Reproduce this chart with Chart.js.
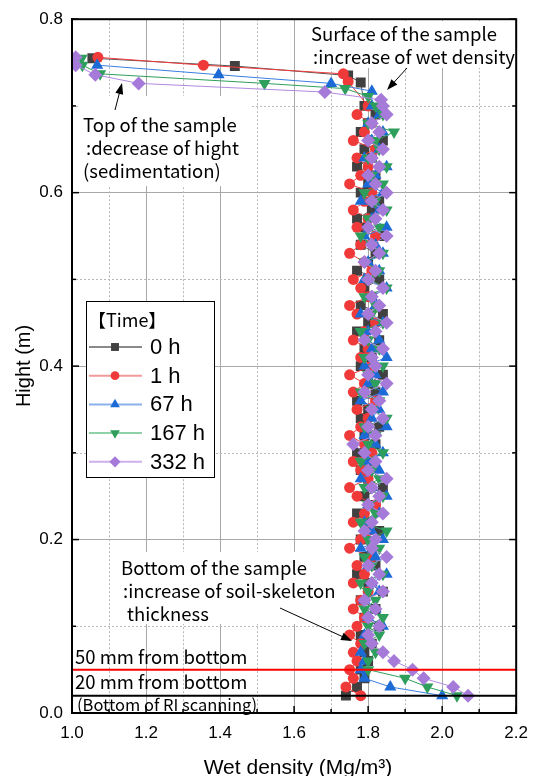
<!DOCTYPE html>
<html>
<head>
<meta charset="utf-8">
<script src="https://cdn.jsdelivr.net/npm/chart.js@4.4.1/dist/chart.umd.min.js"></script>
<style>
  html, body { margin: 0; padding: 0; background: #fff; }
</style>
</head>
<body>
<canvas id="densityChart" width="538" height="776"></canvas>
<script>
// scan heights (m) shared by all profiles
const heights = [
  0.02, 0.03, 0.04, 0.05, 0.06, 0.07, 0.08, 0.09, 0.10, 0.11,
  0.12, 0.13, 0.14, 0.15, 0.16, 0.17, 0.18, 0.19, 0.20, 0.21,
  0.22, 0.23, 0.24, 0.25, 0.26, 0.27, 0.28, 0.29, 0.30, 0.31,
  0.32, 0.33, 0.34, 0.35, 0.36, 0.37, 0.38, 0.39, 0.40, 0.41,
  0.42, 0.43, 0.44, 0.45, 0.46, 0.47, 0.48, 0.49, 0.50, 0.51,
  0.52, 0.53, 0.54, 0.55, 0.56, 0.57, 0.58, 0.59, 0.60, 0.61,
  0.62, 0.63, 0.64, 0.65, 0.66, 0.67, 0.68, 0.69, 0.70
];

// wet density (Mg/m3) at each height
const wet0h = [
  1.74, 1.77, 1.79, 1.78, 1.80, 1.79, 1.81, 1.78, 1.83, 1.79,
  1.82, 1.78, 1.84, 1.80, 1.77, 1.82, 1.79, 1.81, 1.78, 1.83,
  1.80, 1.77, 1.82, 1.79, 1.84, 1.80, 1.78, 1.81, 1.77, 1.82,
  1.79, 1.83, 1.78, 1.80, 1.77, 1.82, 1.80, 1.84, 1.78, 1.81,
  1.79, 1.83, 1.77, 1.80, 1.84, 1.78, 1.81, 1.79, 1.83, 1.77,
  1.80, 1.82, 1.78, 1.84, 1.79, 1.77, 1.81, 1.83, 1.78, 1.80,
  1.82, 1.77, 1.81, 1.79, 1.84, 1.78, 1.80, 1.82, 1.79
];
const wet1h = [
  1.78, 1.74, 1.76, 1.75, 1.77, 1.76, 1.78, 1.75, 1.77, 1.79,
  1.76, 1.78, 1.80, 1.76, 1.79, 1.77, 1.81, 1.75, 1.78, 1.80,
  1.76, 1.79, 1.82, 1.77, 1.75, 1.80, 1.78, 1.76, 1.81, 1.79,
  1.75, 1.78, 1.80, 1.77, 1.82, 1.76, 1.79, 1.75, 1.81, 1.78,
  1.80, 1.76, 1.79, 1.82, 1.77, 1.75, 1.80, 1.78, 1.76, 1.81,
  1.79, 1.75, 1.78, 1.82, 1.77, 1.80, 1.76, 1.79, 1.81, 1.75,
  1.78, 1.80, 1.77, 1.82, 1.76, 1.79, 1.81, 1.77, 1.80
];
const wet67h = [
  2.00, 1.86, 1.79, 1.78, 1.79, 1.78, 1.80, 1.79, 1.84, 1.80,
  1.82, 1.79, 1.83, 1.81, 1.85, 1.80, 1.82, 1.78, 1.84, 1.81,
  1.79, 1.83, 1.80, 1.85, 1.81, 1.78, 1.83, 1.80, 1.84, 1.82,
  1.79, 1.85, 1.81, 1.83, 1.78, 1.84, 1.80, 1.82, 1.79, 1.85,
  1.81, 1.83, 1.80, 1.84, 1.78, 1.82, 1.81, 1.85, 1.79, 1.83,
  1.80, 1.84, 1.82, 1.79, 1.85, 1.81, 1.83, 1.78, 1.84, 1.80,
  1.82, 1.85, 1.79, 1.83, 1.81, 1.84, 1.80, 1.83, 1.81
];
const wet167h = [
  2.04, 1.96, 1.90, 1.80, 1.80, 1.82, 1.79, 1.83, 1.80, 1.84,
  1.79, 1.82, 1.80, 1.78, 1.84, 1.81, 1.79, 1.83, 1.80, 1.85,
  1.78, 1.82, 1.80, 1.84, 1.79, 1.83, 1.81, 1.78, 1.84, 1.80,
  1.82, 1.79, 1.85, 1.81, 1.83, 1.78, 1.82, 1.80, 1.84, 1.79,
  1.83, 1.80, 1.78, 1.84, 1.81, 1.82, 1.79, 1.85, 1.80, 1.83,
  1.79, 1.84, 1.81, 1.78, 1.83, 1.80, 1.85, 1.82, 1.79, 1.84,
  1.81, 1.85, 1.80, 1.83, 1.82, 1.87, 1.80, 1.84, 1.82
];
const wet332h = [
  2.07, 2.03, 1.95, 1.92, 1.87, 1.84, 1.81, 1.80, 1.83, 1.80,
  1.82, 1.79, 1.84, 1.81, 1.83, 1.80, 1.85, 1.81, 1.82, 1.79,
  1.81, 1.84, 1.80, 1.83, 1.81, 1.85, 1.80, 1.82, 1.79, 1.76,
  1.82, 1.80, 1.84, 1.81, 1.83, 1.79, 1.85, 1.80, 1.82, 1.81,
  1.84, 1.79, 1.82, 1.85, 1.80, 1.83, 1.81, 1.84, 1.80, 1.82,
  1.79, 1.83, 1.81, 1.85, 1.80, 1.82, 1.84, 1.81, 1.85, 1.82,
  1.80, 1.83, 1.81, 1.84, 1.80, 1.83, 1.81, 1.85, 1.84
];

// sample surface (top of each profile)
const topHeights0h = [0.727, 0.735, 0.746, 0.755];
const topWet0h = [1.78, 1.746, 1.44, 1.055];
const topHeights1h = [0.728, 0.737, 0.747, 0.756];
const topWet1h = [1.746, 1.733, 1.355, 1.07];
const topHeights67h = [0.717, 0.726, 0.736, 0.747];
const topWet67h = [1.81, 1.70, 1.396, 1.068];
const topHeights167h = [0.711, 0.720, 0.726, 0.737, 0.747, 0.755];
const topWet167h = [1.80, 1.738, 1.52, 1.076, 1.028, 1.026];
const topHeights332h = [0.707, 0.716, 0.726, 0.736, 0.747, 0.756];
const topWet332h = [1.835, 1.683, 1.18, 1.063, 1.01, 1.01];

const timeLabels = ["0 h", "1 h", "67 h", "167 h", "332 h"];
const xTickValues = [1.0, 1.2, 1.4, 1.6, 1.8, 2.0, 2.2];
const yTickValues = [0.0, 0.2, 0.4, 0.6, 0.8];
const xMinorValues = [1.1, 1.3, 1.5, 1.7, 1.9, 2.1];
const yMinorValues = [0.1, 0.3, 0.5, 0.7];
const refHeights = [0.05, 0.02]; // 50 mm and 20 mm from bottom

const seriesStyle = [
  { color: "#404040", line: "#555555", legendLine: "#8a8a8a", shape: "rect", radius: 7, rotation: 0 },
  { color: "#f03a3a", line: "#f03a3a", legendLine: "#f59a9a", shape: "circle", radius: 5.5, rotation: 0 },
  { color: "#1c6ad6", line: "#3a7fe0", legendLine: "#8ab2ee", shape: "triangle", radius: 7, rotation: 0 },
  { color: "#2e9e5c", line: "#2e9e5c", legendLine: "#8fd2a8", shape: "triangle", radius: 7, rotation: 180 },
  { color: "#a67ad8", line: "#b08ae0", legendLine: "#cdb0ec", shape: "rectRot", radius: 7, rotation: 0 }
];

const bodyWet = [wet0h, wet1h, wet67h, wet167h, wet332h];
const topH = [topHeights0h, topHeights1h, topHeights67h, topHeights167h, topHeights332h];
const topW = [topWet0h, topWet1h, topWet67h, topWet167h, topWet332h];

const datasets = timeLabels.map((label, i) => {
  const st = seriesStyle[i];
  const pts = heights.map((h, k) => ({ x: bodyWet[i][k], y: h }));
  topH[i].forEach((h, k) => pts.push({ x: topW[i][k], y: h }));
  return {
    label: label,
    data: pts,
    borderColor: st.line,
    borderWidth: 1,
    backgroundColor: st.color,
    pointBackgroundColor: st.color,
    pointBorderColor: st.color,
    pointBorderWidth: 0,
    pointStyle: st.shape,
    pointRadius: st.radius,
    pointRotation: st.rotation,
    pointHoverRadius: st.radius,
    showLine: true,
    tension: 0,
    order: 5 - i
  };
});

const textFont = '"Noto Sans CJK JP", "Noto Sans", sans-serif';
const axisFont = '"Liberation Sans", Arial, sans-serif';

const drawMarker = (ctx, st, x, y, r) => {
  ctx.fillStyle = st.color;
  ctx.strokeStyle = st.color;
  Chart.helpers.drawPoint(ctx, { pointStyle: st.shape, radius: r, rotation: st.rotation, borderWidth: 0 }, x, y);
};

const arrow = (ctx, x1, y1, x2, y2) => {
  const ang = Math.atan2(y2 - y1, x2 - x1);
  const len = 11, half = 4;
  ctx.beginPath();
  ctx.moveTo(x1, y1);
  ctx.lineTo(x2 - Math.cos(ang) * len * 0.8, y2 - Math.sin(ang) * len * 0.8);
  ctx.stroke();
  ctx.beginPath();
  ctx.moveTo(x2, y2);
  ctx.lineTo(x2 - Math.cos(ang) * len - Math.sin(ang) * half, y2 - Math.sin(ang) * len + Math.cos(ang) * half);
  ctx.lineTo(x2 - Math.cos(ang) * len + Math.sin(ang) * half, y2 - Math.sin(ang) * len - Math.cos(ang) * half);
  ctx.closePath();
  ctx.fill();
};

// notes drawn on the plot
const notes = [
  { x: 83, y: 125, size: 18.5, lines: ["Top of the sample", ":decrease of hight", "(sedimentation)"], indent: [0, 3, 0], box: [80, 96, 170, 90] },
  { x: 311, y: 34, size: 18.5, lines: ["Surface of the sample", ":increase of wet density"], indent: [0, 2], box: [305, 21, 218, 47] },
  { x: 121, y: 568, size: 18.5, lines: ["Bottom of the sample", ":increase of soil-skeleton", "thickness"], indent: [0, 2, 6], box: [115, 552, 236, 72] }
];

const decor = {
  id: "decor",
  beforeDatasetsDraw(chart) {
    const { ctx, chartArea: a, scales: { x, y } } = chart;
    ctx.save();
    ctx.strokeStyle = "#b8b8b8";
    ctx.lineWidth = 1;
    ctx.setLineDash([2, 2]);
    xMinorValues.forEach((v) => {
      const p = Math.round(x.getPixelForValue(v)) + 0.5;
      ctx.beginPath(); ctx.moveTo(p, a.top); ctx.lineTo(p, a.bottom); ctx.stroke();
    });
    yMinorValues.forEach((v) => {
      const p = Math.round(y.getPixelForValue(v)) + 0.5;
      ctx.beginPath(); ctx.moveTo(a.left, p); ctx.lineTo(a.right, p); ctx.stroke();
    });
    ctx.setLineDash([]);
    ctx.fillStyle = "#fff";
    notes.forEach((n) => ctx.fillRect(n.box[0], n.box[1], n.box[2], n.box[3]));
    ctx.restore();
  },
  afterDatasetsDraw(chart) {
    const { ctx, chartArea: a, scales: { y } } = chart;
    ctx.save();
    ctx.lineWidth = 2;
    refHeights.forEach((h, i) => {
      const p = y.getPixelForValue(h);
      ctx.strokeStyle = i === 0 ? "#ff0000" : "#000000";
      ctx.beginPath(); ctx.moveTo(a.left, p); ctx.lineTo(a.right, p); ctx.stroke();
    });
    ctx.restore();
  },
  afterDraw(chart) {
    const { ctx, chartArea: a, scales: { x, y } } = chart;
    ctx.save();

    // inward ticks
    ctx.strokeStyle = "#000";
    ctx.lineWidth = 1.5;
    const tick = (x1, y1, x2, y2) => { ctx.beginPath(); ctx.moveTo(x1, y1); ctx.lineTo(x2, y2); ctx.stroke(); };
    xTickValues.concat(xMinorValues).forEach((v) => {
      const p = x.getPixelForValue(v);
      const len = xMinorValues.includes(v) ? 4 : 7;
      tick(p, a.bottom, p, a.bottom - len);
    });
    yTickValues.concat(yMinorValues).forEach((v) => {
      const p = y.getPixelForValue(v);
      const len = yMinorValues.includes(v) ? 4 : 7;
      tick(a.left, p, a.left + len, p);
      tick(a.right, p, a.right - len, p);
    });

    // frame
    ctx.lineWidth = 2;
    ctx.strokeRect(a.left, a.top, a.right - a.left, a.bottom - a.top);

    // notes and arrows
    ctx.fillStyle = "#000";
    ctx.textBaseline = "middle";
    ctx.textAlign = "left";
    notes.forEach((n) => {
      ctx.font = n.size + "px " + textFont;
      n.lines.forEach((t, k) => ctx.fillText(t, n.x + n.indent[k], n.y + k * 23));
    });
    ctx.lineWidth = 1;
    arrow(ctx, 115, 110, 122, 83);
    arrow(ctx, 407, 68, 387, 90);
    arrow(ctx, 280, 608, 352, 641);

    ctx.font = "18.5px " + textFont;
    ctx.fillText("50 mm from bottom", 75, 657);
    ctx.fillText("20 mm from bottom", 75, 682);
    ctx.font = "16.5px " + textFont;
    ctx.fillText("(Bottom of RI scanning)", 77, 705);

    // legend
    const lx = 86, ly = 301, lw = 128, lh = 176;
    ctx.fillStyle = "#fff";
    ctx.fillRect(lx, ly, lw, lh);
    ctx.strokeStyle = "#000";
    ctx.lineWidth = 1;
    ctx.strokeRect(lx + 0.5, ly + 0.5, lw, lh);
    ctx.fillStyle = "#000";
    ctx.font = "18px " + textFont;
    ctx.fillText("【Time】", 88, 320);
    timeLabels.forEach((label, i) => {
      const st = seriesStyle[i];
      const ry = 347 + i * 28.7;
      ctx.strokeStyle = st.legendLine;
      ctx.lineWidth = 2;
      ctx.beginPath(); ctx.moveTo(89, ry); ctx.lineTo(142, ry); ctx.stroke();
      drawMarker(ctx, st, 115, ry, st.radius * 0.8);
      ctx.fillStyle = "#000";
      ctx.font = "22px " + axisFont;
      ctx.fillText(label, 150, ry + 1);
    });

    // axis titles
    ctx.fillStyle = "#000";
    ctx.font = "21px " + axisFont;
    ctx.textAlign = "center";
    ctx.textBaseline = "alphabetic";
    ctx.fillText("Wet density (Mg/m³)", 298, 774);
    ctx.save();
    ctx.translate(30, 366);
    ctx.rotate(-Math.PI / 2);
    ctx.font = "20px " + axisFont;
    ctx.fillText("Hight (m)", 0, 0);
    ctx.restore();

    ctx.restore();
  }
};

const densityChart = new Chart(document.getElementById("densityChart"), {
  type: "scatter",
  data: { datasets: datasets },
  options: {
    responsive: false,
    animation: false,
    devicePixelRatio: 1,
    layout: { padding: { left: 0, right: 14, top: 19, bottom: 0 } },
    plugins: { legend: { display: false }, tooltip: { enabled: false } },
    scales: {
      x: {
        type: "linear",
        min: 1.0,
        max: 2.2,
        afterFit: (scale) => { scale.height = 63; },
        afterBuildTicks: (scale) => { scale.ticks = xTickValues.map((v) => ({ value: v })); },
        ticks: {
          padding: 10,
          color: "#000",
          font: { family: axisFont, size: 17 },
          callback: (v) => Number(v).toFixed(1)
        },
        grid: { color: "#a8a8a8", lineWidth: 1, drawTicks: false },
        border: { display: true, color: "#000", width: 2 }
      },
      y: {
        type: "linear",
        min: 0,
        max: 0.8,
        afterFit: (scale) => { scale.width = 72; },
        afterBuildTicks: (scale) => { scale.ticks = yTickValues.map((v) => ({ value: v })); },
        ticks: {
          padding: 9,
          color: "#000",
          font: { family: axisFont, size: 17 },
          callback: (v) => Number(v).toFixed(1)
        },
        grid: { color: "#a8a8a8", lineWidth: 1, drawTicks: false },
        border: { display: true, color: "#000", width: 2 }
      }
    }
  },
  plugins: [decor]
});
</script>
</body>
</html>
